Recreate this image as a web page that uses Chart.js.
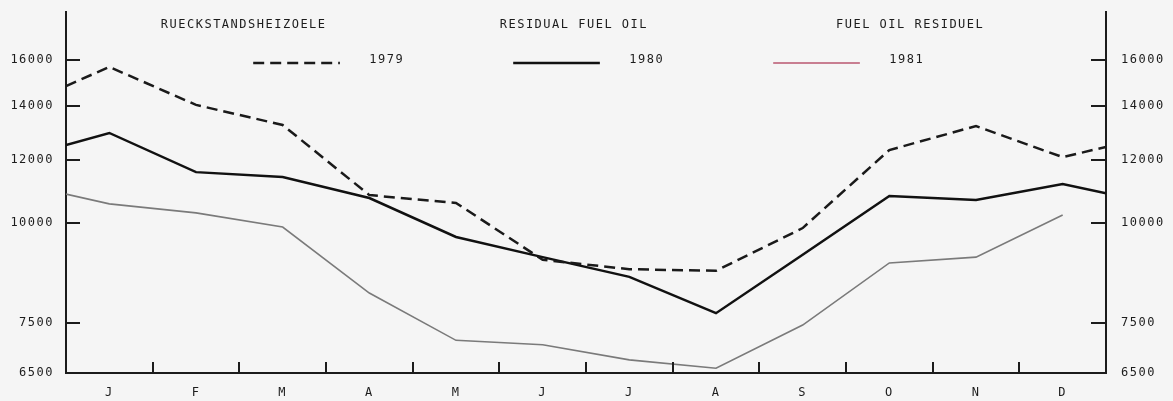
<!DOCTYPE html>
<html>
<head>
<meta charset="utf-8">
<script src="https://cdn.jsdelivr.net/npm/chart.js@4.4.1/dist/chart.umd.min.js"></script>
<style>
    html, body { margin: 0; padding: 0; background: #f5f5f5; }
    #wrap { width: 1173px; height: 401px; position: relative; }
</style>
</head>
<body>
<div id="wrap"><canvas id="fuelChart"></canvas></div>
<script>
// Month labels and the x position (in months) of each plotted point
const months = ['J', 'F', 'M', 'A', 'M', 'J', 'J', 'A', 'S', 'O', 'N', 'D'];
const xFull = [0, 0.5, 1.5, 2.5, 3.5, 4.5, 5.5, 6.5, 7.5, 8.5, 9.5, 10.5, 11.5, 12];
const x1981 = [0, 0.5, 1.5, 2.5, 3.5, 4.5, 5.5, 6.5, 7.5, 8.5, 9.5, 10.5, 11.5];

// Values
const values1979 = [14830, 15670, 14050, 13260, 10840, 10600, 9000, 8760, 8720, 9860, 12340, 13220, 12090, 12450];
const values1980 = [12520, 12960, 11580, 11420, 10750, 9610, 9070, 8570, 7720, 9130, 10810, 10690, 11190, 10900];
const values1981 = [10870, 10570, 10300, 9890, 8180, 7140, 7050, 6750, 6590, 7460, 8920, 9070, 10240];

// Axis ticks and titles
const yTicks = [6500, 7500, 10000, 12000, 14000, 16000];
const yMin = 6500;
const yMax = 18350;
const titles = ['RUECKSTANDSHEIZOELE', 'RESIDUAL FUEL OIL', 'FUEL OIL RESIDUEL'];
const legendLabels = ['1979', '1980', '1981'];

const FONT = "'DejaVu Sans Mono', monospace";
const INK = '#1c1c1c';

function toPoints(xs, ys) {
    return xs.map((x, i) => ({ x: x, y: ys[i] }));
}

// Draws background, inward tick marks, titles and the legend row
const decorPlugin = {
    id: 'decor',
    beforeDraw(chart) {
        const ctx = chart.ctx;
        ctx.fillStyle = '#f5f5f5';
        ctx.fillRect(0, 0, chart.width, chart.height);
        ctx.letterSpacing = '1.5px';
    },
    afterDraw(chart) {
        const ctx = chart.ctx;
        const area = chart.chartArea;
        const xs = chart.scales.x;
        const ys = chart.scales.y;

        ctx.save();
        ctx.strokeStyle = INK;
        ctx.lineWidth = 2;
        ctx.beginPath();
        // month boundaries
        for (let i = 1; i < 12; i++) {
            const px = Math.round(xs.getPixelForValue(i));
            ctx.moveTo(px, area.bottom);
            ctx.lineTo(px, area.bottom - 11);
        }
        // value ticks on both sides
        yTicks.forEach(v => {
            if (v === yMin) return;
            const py = Math.round(ys.getPixelForValue(v));
            ctx.moveTo(area.left, py);
            ctx.lineTo(area.left + 14, py);
            ctx.moveTo(area.right, py);
            ctx.lineTo(area.right - 15, py);
        });
        ctx.stroke();

        // titles
        ctx.letterSpacing = '1.5px';
        ctx.font = '12px ' + FONT;
        ctx.fillStyle = INK;
        ctx.textBaseline = 'middle';
        ctx.textAlign = 'center';
        const titleX = [2.05, 5.86, 9.74];
        titles.forEach((t, i) => {
            ctx.fillText(t, xs.getPixelForValue(titleX[i]), 25);
        });

        // legend row
        ctx.textAlign = 'left';
        const labelX = [3.5, 6.5, 9.5];
        chart.data.datasets.forEach((ds, i) => {
            const x0 = xs.getPixelForValue(labelX[i] - 1.34);
            const x1 = xs.getPixelForValue(labelX[i] - 0.34);
            ctx.save();
            ctx.strokeStyle = ds.legendColor || ds.borderColor;
            ctx.lineWidth = ds.borderWidth;
            ctx.setLineDash(ds.borderDash || []);
            ctx.beginPath();
            ctx.moveTo(x0, 63);
            ctx.lineTo(x1, 63);
            ctx.stroke();
            ctx.restore();
            ctx.fillText(legendLabels[i], xs.getPixelForValue(labelX[i]), 60);
        });
        ctx.restore();
    }
};

const yAxis = (position, width, pad) => ({
    type: 'logarithmic',
    position: position,
    min: yMin,
    max: yMax,
    afterBuildTicks: scale => { scale.ticks = yTicks.map(v => ({ value: v })); },
    afterFit: scale => {
        scale.width = width;
        scale.paddingTop = 0;
        scale.paddingBottom = 0;
    },
    grid: { display: false, drawTicks: false },
    border: { display: true, color: INK, width: 2 },
    ticks: {
        padding: pad,
        color: INK,
        font: { family: FONT, size: 12 },
        callback: value => String(value)
    }
});

new Chart(document.getElementById('fuelChart'), {
    type: 'line',
    data: {
        datasets: [{
            label: '1979',
            data: toPoints(xFull, values1979),
            borderColor: '#1a1a1a',
            borderWidth: 2.5,
            borderDash: [11, 6],
            yAxisID: 'y'
        }, {
            label: '1980',
            data: toPoints(xFull, values1980),
            borderColor: '#111111',
            borderWidth: 2.5,
            yAxisID: 'y'
        }, {
            label: '1981',
            data: toPoints(x1981, values1981),
            borderColor: '#7a7a7a',
            legendColor: '#b8566f',
            borderWidth: 1.6,
            yAxisID: 'y'
        }]
    },
    options: {
        responsive: true,
        maintainAspectRatio: false,
        animation: false,
        layout: { padding: { top: 12 } },
        elements: {
            point: { radius: 0 },
            line: { tension: 0, borderCapStyle: 'butt' }
        },
        plugins: {
            legend: { display: false },
            tooltip: { enabled: false }
        },
        scales: {
            x: {
                type: 'linear',
                min: 0,
                max: 12,
                afterBuildTicks: scale => { scale.ticks = months.map((m, i) => ({ value: i + 0.5 })); },
                afterFit: scale => { scale.height = 28; },
                grid: { display: false, drawTicks: false },
                border: { display: true, color: INK, width: 2 },
                ticks: {
                    autoSkip: false,
                    maxRotation: 0,
                    padding: 13,
                    color: INK,
                    font: { family: FONT, size: 12 },
                    callback: (value, index) => months[index]
                }
            },
            y: yAxis('left', 66, 12),
            y2: yAxis('right', 67, 15)
        }
    },
    plugins: [decorPlugin]
});
</script>
</body>
</html>
